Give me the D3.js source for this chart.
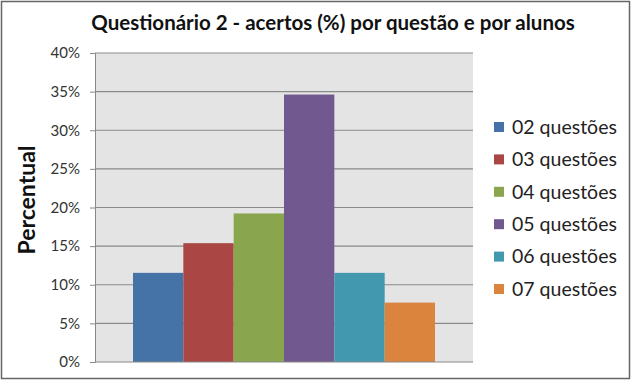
<!DOCTYPE html>
<html>
<head>
    <style>
        body { margin: 0; background: white; }
        text { font-family: Lato, "Open Sans", sans-serif; }
    </style>
    <script src="https://d3js.org/d3.v7.min.js"></script>
</head>
<body>
<svg id="chart" width="631" height="380"></svg>
<script>
    // data
    var categories = ["02 questões", "03 questões", "04 questões", "05 questões", "06 questões", "07 questões"];
    var values = [11.54, 15.38, 19.23, 34.62, 11.54, 7.69];
    var colors = ["#4572a7", "#aa4643", "#89a54e", "#71588f", "#4198af", "#db843d"];
    var yTicks = [0, 5, 10, 15, 20, 25, 30, 35, 40];

    var svg = d3.select("#chart");
    var W = 631, H = 380;
    var plot = {left: 95, right: 473, top: 53, bottom: 362};

    // outer border
    svg.append("rect").attr("x", 1.5).attr("y", 1.5).attr("width", W - 3).attr("height", H - 3)
        .attr("fill", "white").attr("stroke", "#666").attr("stroke-width", 1.5);

    var y = d3.scaleLinear().domain([0, 40]).range([plot.bottom, plot.top]);
    var x = d3.scaleBand().domain(categories)
        .range([133, 435]).paddingInner(0);

    // plot background
    svg.append("rect").attr("x", plot.left).attr("y", plot.top)
        .attr("width", plot.right - plot.left).attr("height", plot.bottom - plot.top)
        .attr("fill", "#e4e4e4");

    // gridlines
    svg.append("g").selectAll("line").data(yTicks.filter(d => d > 0)).join("line")
        .attr("x1", plot.left).attr("x2", plot.right)
        .attr("y1", d => y(d)).attr("y2", d => y(d))
        .attr("stroke", "#8a8a8a").attr("stroke-width", 1.2);

    // bars
    svg.append("g").selectAll("rect").data(values).join("rect")
        .attr("x", (d, i) => x(categories[i]))
        .attr("width", x.bandwidth())
        .attr("y", d => y(d))
        .attr("height", d => y(0) - y(d))
        .attr("fill", (d, i) => colors[i]);

    // y axis
    var yAxis = svg.append("g")
        .attr("transform", "translate(" + plot.left + ",0)")
        .call(d3.axisLeft(y).tickValues(yTicks).tickSize(5).tickPadding(10).tickFormat(d => d + "%"));
    yAxis.select(".domain").attr("stroke", "#888");
    yAxis.selectAll(".tick line").attr("stroke", "#888");
    yAxis.selectAll(".tick text").attr("font-size", 15).attr("fill", "#333")
        .style("font-family", "Lato, sans-serif");

    // x axis line
    svg.append("line").attr("x1", plot.left).attr("x2", plot.right)
        .attr("y1", plot.bottom).attr("y2", plot.bottom)
        .attr("stroke", "#888").attr("stroke-width", 1.2);

    // title
    svg.append("text").attr("x", 333).attr("y", 30)
        .attr("text-anchor", "middle").attr("font-size", 20.5).attr("font-weight", "bold")
        .attr("fill", "#111")
        .text("Questionário 2 - acertos (%) por questão e por alunos");

    // y axis title
    svg.append("text").attr("transform", "translate(35,200) rotate(-90)")
        .attr("text-anchor", "middle").attr("font-size", 23).attr("font-weight", "bold")
        .attr("fill", "#111")
        .text("Percentual");

    // legend
    var legend = svg.append("g").selectAll("g").data(categories).join("g")
        .attr("transform", (d, i) => "translate(494," + (127 + i * 32.4) + ")");
    legend.append("rect").attr("x", 0).attr("y", -5).attr("width", 10).attr("height", 10)
        .attr("fill", (d, i) => colors[i]);
    legend.append("text").attr("x", 18).attr("y", 0).attr("dy", "0.35em")
        .attr("font-size", 19.5).attr("fill", "#222")
        .text(d => d);
</script>
</body>
</html>
